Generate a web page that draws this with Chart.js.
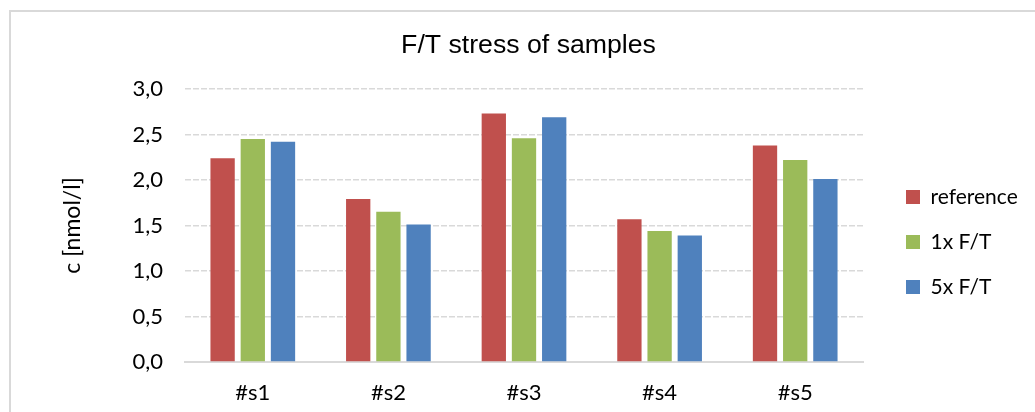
<!DOCTYPE html>
<html><head><meta charset="utf-8">
<script src="https://cdn.jsdelivr.net/npm/chart.js@4.4.1/dist/chart.umd.min.js"></script>
<style>
html,body{margin:0;padding:0;background:#fff;overflow:hidden;width:1035px;height:412px;}
#frame{position:absolute;left:9px;top:10px;width:1100px;height:500px;border:2px solid #d9d9d9;box-sizing:border-box;}
#c{position:absolute;left:0;top:0;}
</style></head><body>
<div id="frame"></div>
<canvas id="c" width="1035" height="412"></canvas>
<script>
const categories = ['#s1', '#s2', '#s3', '#s4', '#s5'];
const seriesNames = ['reference', '1x F/T', '5x F/T'];
const referenceValues = [2.24, 1.79, 2.73, 1.57, 2.38];
const ft1Values = [2.45, 1.65, 2.46, 1.44, 2.22];
const ft5Values = [2.42, 1.51, 2.69, 1.39, 2.01];
const yTickLabels = ['0,0', '0,5', '1,0', '1,5', '2,0', '2,5', '3,0'];
const seriesColors = ['#C0504D', '#9BBB59', '#4F81BD'];

Chart.defaults.font.family = 'Lato';
Chart.defaults.color = '#000';

// layout targets
const canvasW = 1035;
const plotRight = 863, plotLeft = 185, legendBoxX = 906, titleCenterX = 528.5, yTitleCenterX = 73;
const legendFont = 21, legendPad = 24, legendBox = 14;
const mctx = document.createElement('canvas').getContext('2d');
mctx.font = legendFont + 'px Lato';
const maxText = Math.max(...seriesNames.map(s => mctx.measureText(s).width));
const legendW = legendPad + legendBox + legendFont / 2 + maxText + 10;
const gapAxisW = legendBoxX - legendPad - plotRight;
const padRight = canvasW - plotRight - gapAxisW - legendW;
const padLeft = 2 * titleCenterX - canvasW + padRight;
const yTitleFont = 23;

new Chart(document.getElementById('c'), {
  type: 'bar',
  data: {
    labels: categories,
    datasets: [referenceValues, ft1Values, ft5Values].map((vals, i) => ({
      label: seriesNames[i],
      data: vals,
      backgroundColor: seriesColors[i],
      borderWidth: 0
    }))
  },
  options: {
    responsive: false,
    animation: false,
    layout: { padding: { left: padLeft, right: padRight, top: 0, bottom: 0 } },
    datasets: { bar: { categoryPercentage: 0.668, barPercentage: 0.805 } },
    plugins: {
      title: {
        display: true, text: 'F/T stress of samples', color: '#000',
        font: { family: 'Liberation Sans', size: 26.67, weight: 'normal', lineHeight: 1.2 },
        padding: { top: 30, bottom: 27 }
      },
      legend: {
        position: 'right', align: 'center', fullSize: false,
        title: { display: true, text: '', font: { size: 11, lineHeight: 3 }, padding: 0 },
        labels: { boxWidth: legendBox, boxHeight: legendBox, padding: legendPad, color: '#000', font: { family: 'Lato', size: legendFont } }
      },
      tooltip: { enabled: false }
    },
    scales: {
      x: {
        grid: { display: false, drawTicks: false },
        border: { display: true, color: '#d9d9d9', width: 2 },
        ticks: { color: '#000', font: { size: 22 }, padding: 18 },
        afterFit: s => { s.height = 50; }
      },
      y: {
        min: 0, max: 3,
        ticks: { stepSize: 0.5, color: '#000', font: { size: 22 }, padding: 22, callback: (v, i) => yTickLabels[i] },
        grid: { color: '#d9d9d9', lineWidth: 1.5, drawTicks: false },
        border: { display: false, dash: [6, 2] },
        title: { display: true, text: 'c [nmol/l]', color: '#000', font: { size: yTitleFont },
                 padding: { top: yTitleCenterX - padLeft - yTitleFont * 0.6, bottom: 0 } },
        afterFit: s => { s.width = plotLeft - padLeft; }
      },
      y2: {
        position: 'right', display: true,
        grid: { display: false, drawTicks: false },
        border: { display: false },
        ticks: { display: false },
        afterFit: s => { s.width = gapAxisW; }
      }
    }
  }
});
</script>
</body></html>
